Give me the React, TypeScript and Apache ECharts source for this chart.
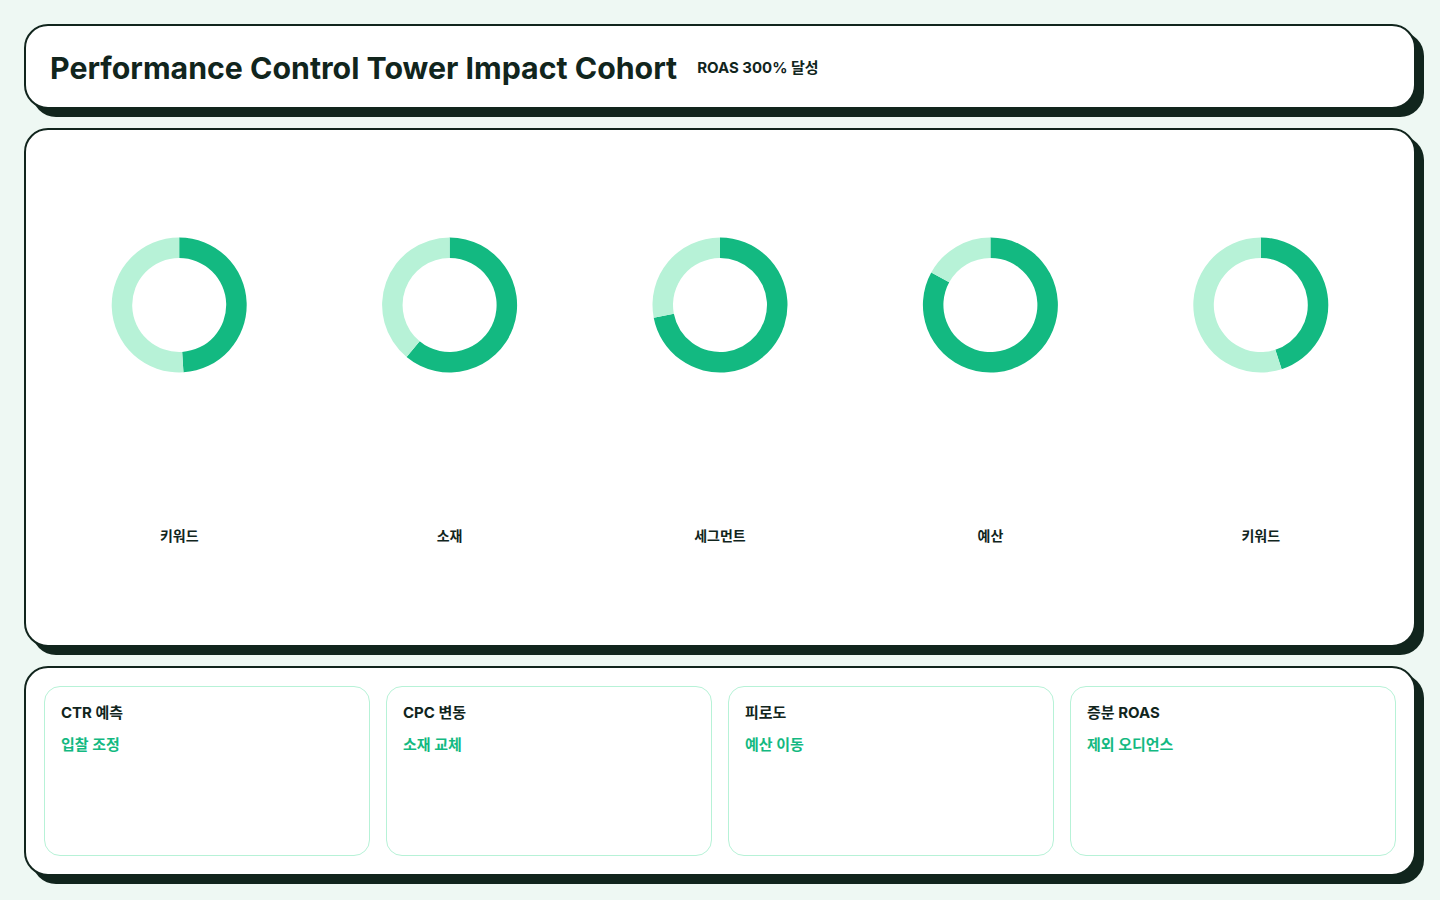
import React, { useEffect, useRef } from "react";
import * as echarts from "echarts";

const TITLE = "Performance Control Tower Impact Cohort";
const SUBTITLE = "ROAS 300% 달성";
const categories = ["키워드", "소재", "세그먼트", "예산", "키워드"];
const achieved = [49, 61, 72, 83, 45];
const remaining = [51, 39, 28, 17, 55];
const cardTitles = ["CTR 예측", "CPC 변동", "피로도", "증분 ROAS"];
const cardActions = ["입찰 조정", "소재 교체", "예산 이동", "제외 오디언스"];

const DARK = "#11251d";
const GREEN = "#13b981";
const LIGHT = "#b7f2d7";
const BG = "#eef8f3";
const FONT = "Inter, 'Noto Sans CJK KR', 'Noto Sans', sans-serif";

const CHART_W = 1352;
const CHART_H = 478;

const panelStyle = (top: number, height: number): React.CSSProperties => ({
  position: "absolute",
  left: 24,
  top,
  width: 1392,
  height,
  boxSizing: "border-box",
  border: `2px solid ${DARK}`,
  borderRadius: 24,
  background: "#ffffff",
  boxShadow: `8px 8px 0 ${DARK}`,
});

function DonutRow() {
  const ref = useRef<HTMLDivElement>(null);
  useEffect(() => {
    if (!ref.current) return;
    const chart = echarts.init(ref.current, undefined, { renderer: "svg" });
    const slot = CHART_W / categories.length;
    const series = categories.map((c, i) => ({
      type: "pie" as const,
      name: c,
      center: [slot * (i + 0.5), 157],
      radius: [47, 67.5],
      startAngle: 90,
      clockwise: true,
      silent: true,
      label: { show: false },
      labelLine: { show: false },
      emphasis: { disabled: true },
      data: [
        { name: "달성", value: achieved[i], itemStyle: { color: GREEN } },
        { name: "잔여", value: remaining[i], itemStyle: { color: LIGHT } },
      ],
    }));
    chart.setOption({
      animation: false,
      tooltip: { show: false },
      series,
      graphic: categories.map((c, i) => ({
        type: "text",
        x: slot * (i + 0.5),
        y: 387,
        style: {
          text: c,
          textAlign: "center",
          textVerticalAlign: "middle",
          font: `700 14px ${FONT}`,
          fill: DARK,
        },
      })),
    });
    return () => chart.dispose();
  }, []);
  return (
    <div
      ref={ref}
      style={{ position: "absolute", left: 44, top: 148, width: CHART_W, height: CHART_H }}
    />
  );
}

export default function App() {
  useEffect(() => {
    document.body.style.margin = "0";
  }, []);
  return (
    <div
      style={{
        position: "relative",
        width: 1440,
        height: 900,
        background: BG,
        fontFamily: FONT,
        color: DARK,
        overflow: "hidden",
      }}
    >
      <div style={panelStyle(24, 85)}>
        <div
          style={{
            position: "absolute",
            left: 24,
            top: 2,
            height: 80,
            display: "flex",
            alignItems: "center",
            gap: 20,
          }}
        >
          <span style={{ fontSize: 30.3, fontWeight: 700, letterSpacing: 0 }}>{TITLE}</span>
          <span style={{ fontSize: 15, fontWeight: 700, marginTop: -4 }}>{SUBTITLE}</span>
        </div>
      </div>
      <div style={panelStyle(128, 519)} />
      <DonutRow />
      <div style={panelStyle(666, 210)} />
      {cardTitles.map((t, i) => (
        <div
          key={i}
          style={{
            position: "absolute",
            left: 44 + i * 342,
            top: 686,
            width: 326,
            height: 170,
            boxSizing: "border-box",
            border: `1px solid ${LIGHT}`,
            borderRadius: 16,
            background: "#ffffff",
          }}
        >
          <div
            style={{
              position: "absolute",
              left: 16,
              top: 16,
              fontSize: 15,
              fontWeight: 700,
              lineHeight: "20px",
            }}
          >
            {t}
          </div>
          <div
            style={{
              position: "absolute",
              left: 16,
              top: 48,
              fontSize: 15,
              fontWeight: 700,
              lineHeight: "20px",
              color: GREEN,
            }}
          >
            {cardActions[i]}
          </div>
        </div>
      ))}
    </div>
  );
}
